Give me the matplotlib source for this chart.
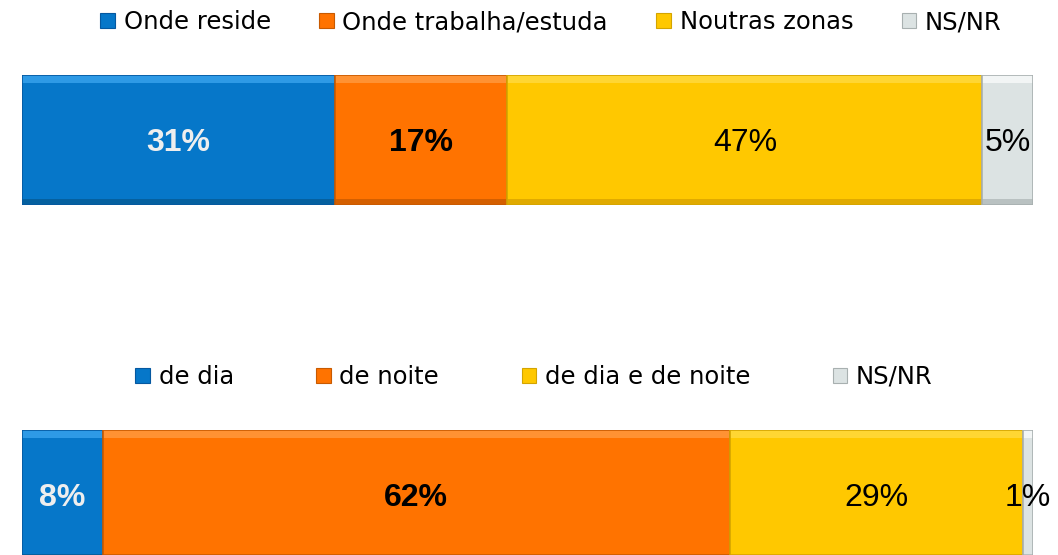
import matplotlib
matplotlib.use("Agg")
import matplotlib.pyplot as plt
from matplotlib.patches import Patch

# Data
top_categories = ["Onde reside", "Onde trabalha/estuda", "Noutras zonas", "NS/NR"]
top_values = [31, 17, 47, 5]
bottom_categories = ["de dia", "de noite", "de dia e de noite", "NS/NR"]
bottom_values = [8, 62, 29, 1]

colors = ["#0677C9", "#FF7300", "#FFC800", "#DCE3E3"]
lights = ["#2E9AE6", "#FF9233", "#FFD633", "#F2F5F5"]
darks = ["#05609F", "#D45F00", "#E0AA00", "#B9C1C1"]
edges = ["#0558A0", "#C85A00", "#D4A400", "#A8B0B0"]
label_colors = ["#EEEEEE", "black", "black", "black"]
label_weights = ["bold", "bold", "normal", "normal"]

W, H = 1058, 555
fig = plt.figure(figsize=(W / 100, H / 100), dpi=100)


def draw(ax_rect, values, cats, legend_y, colspacing):
    ax = fig.add_axes(ax_rect)
    left = 0
    for v, c, li, d, e, lc, lw in zip(values, colors, lights, darks, edges,
                                      label_colors, label_weights):
        ax.barh(0, v, left=left, height=1.0, color=c, edgecolor="none")
        # simple bevel: lighter top band, darker bottom band
        ax.barh(0.47, v, left=left, height=0.06, color=li, edgecolor="none")
        ax.barh(-0.475, v, left=left, height=0.05, color=d, edgecolor="none")
        ax.barh(0, v, left=left, height=1.0, color="none", edgecolor=e, linewidth=1.2)
        ax.text(left + v / 2, -0.02, f"{v}%", ha="center", va="center",
                fontsize=23, color=lc, fontweight=lw, family="Liberation Sans")
        left += v
    ax.set_xlim(0, sum(values))
    ax.set_ylim(-0.5, 0.5)
    ax.axis("off")
    handles = [Patch(facecolor=c, edgecolor=e, linewidth=0.8) for c, e in zip(colors, edges)]
    fig.legend(handles, cats, loc="center", bbox_to_anchor=legend_y, ncol=4,
               frameon=False, handlelength=0.6, handleheight=0.6,
               handletextpad=0.35, columnspacing=colspacing,
               prop={"family": "DejaVu Sans", "size": 17.5})
    return ax


draw([22 / W, (H - 205) / H, 1011 / W, 130 / H], top_values, top_categories,
     (551 / W, 1 - 22 / H), 2.0)
draw([22 / W, (H - 560) / H, 1011 / W, 130 / H], bottom_values, bottom_categories,
     (534 / W, 1 - 377 / H), 3.4)

fig.savefig("out.png", dpi=100)
